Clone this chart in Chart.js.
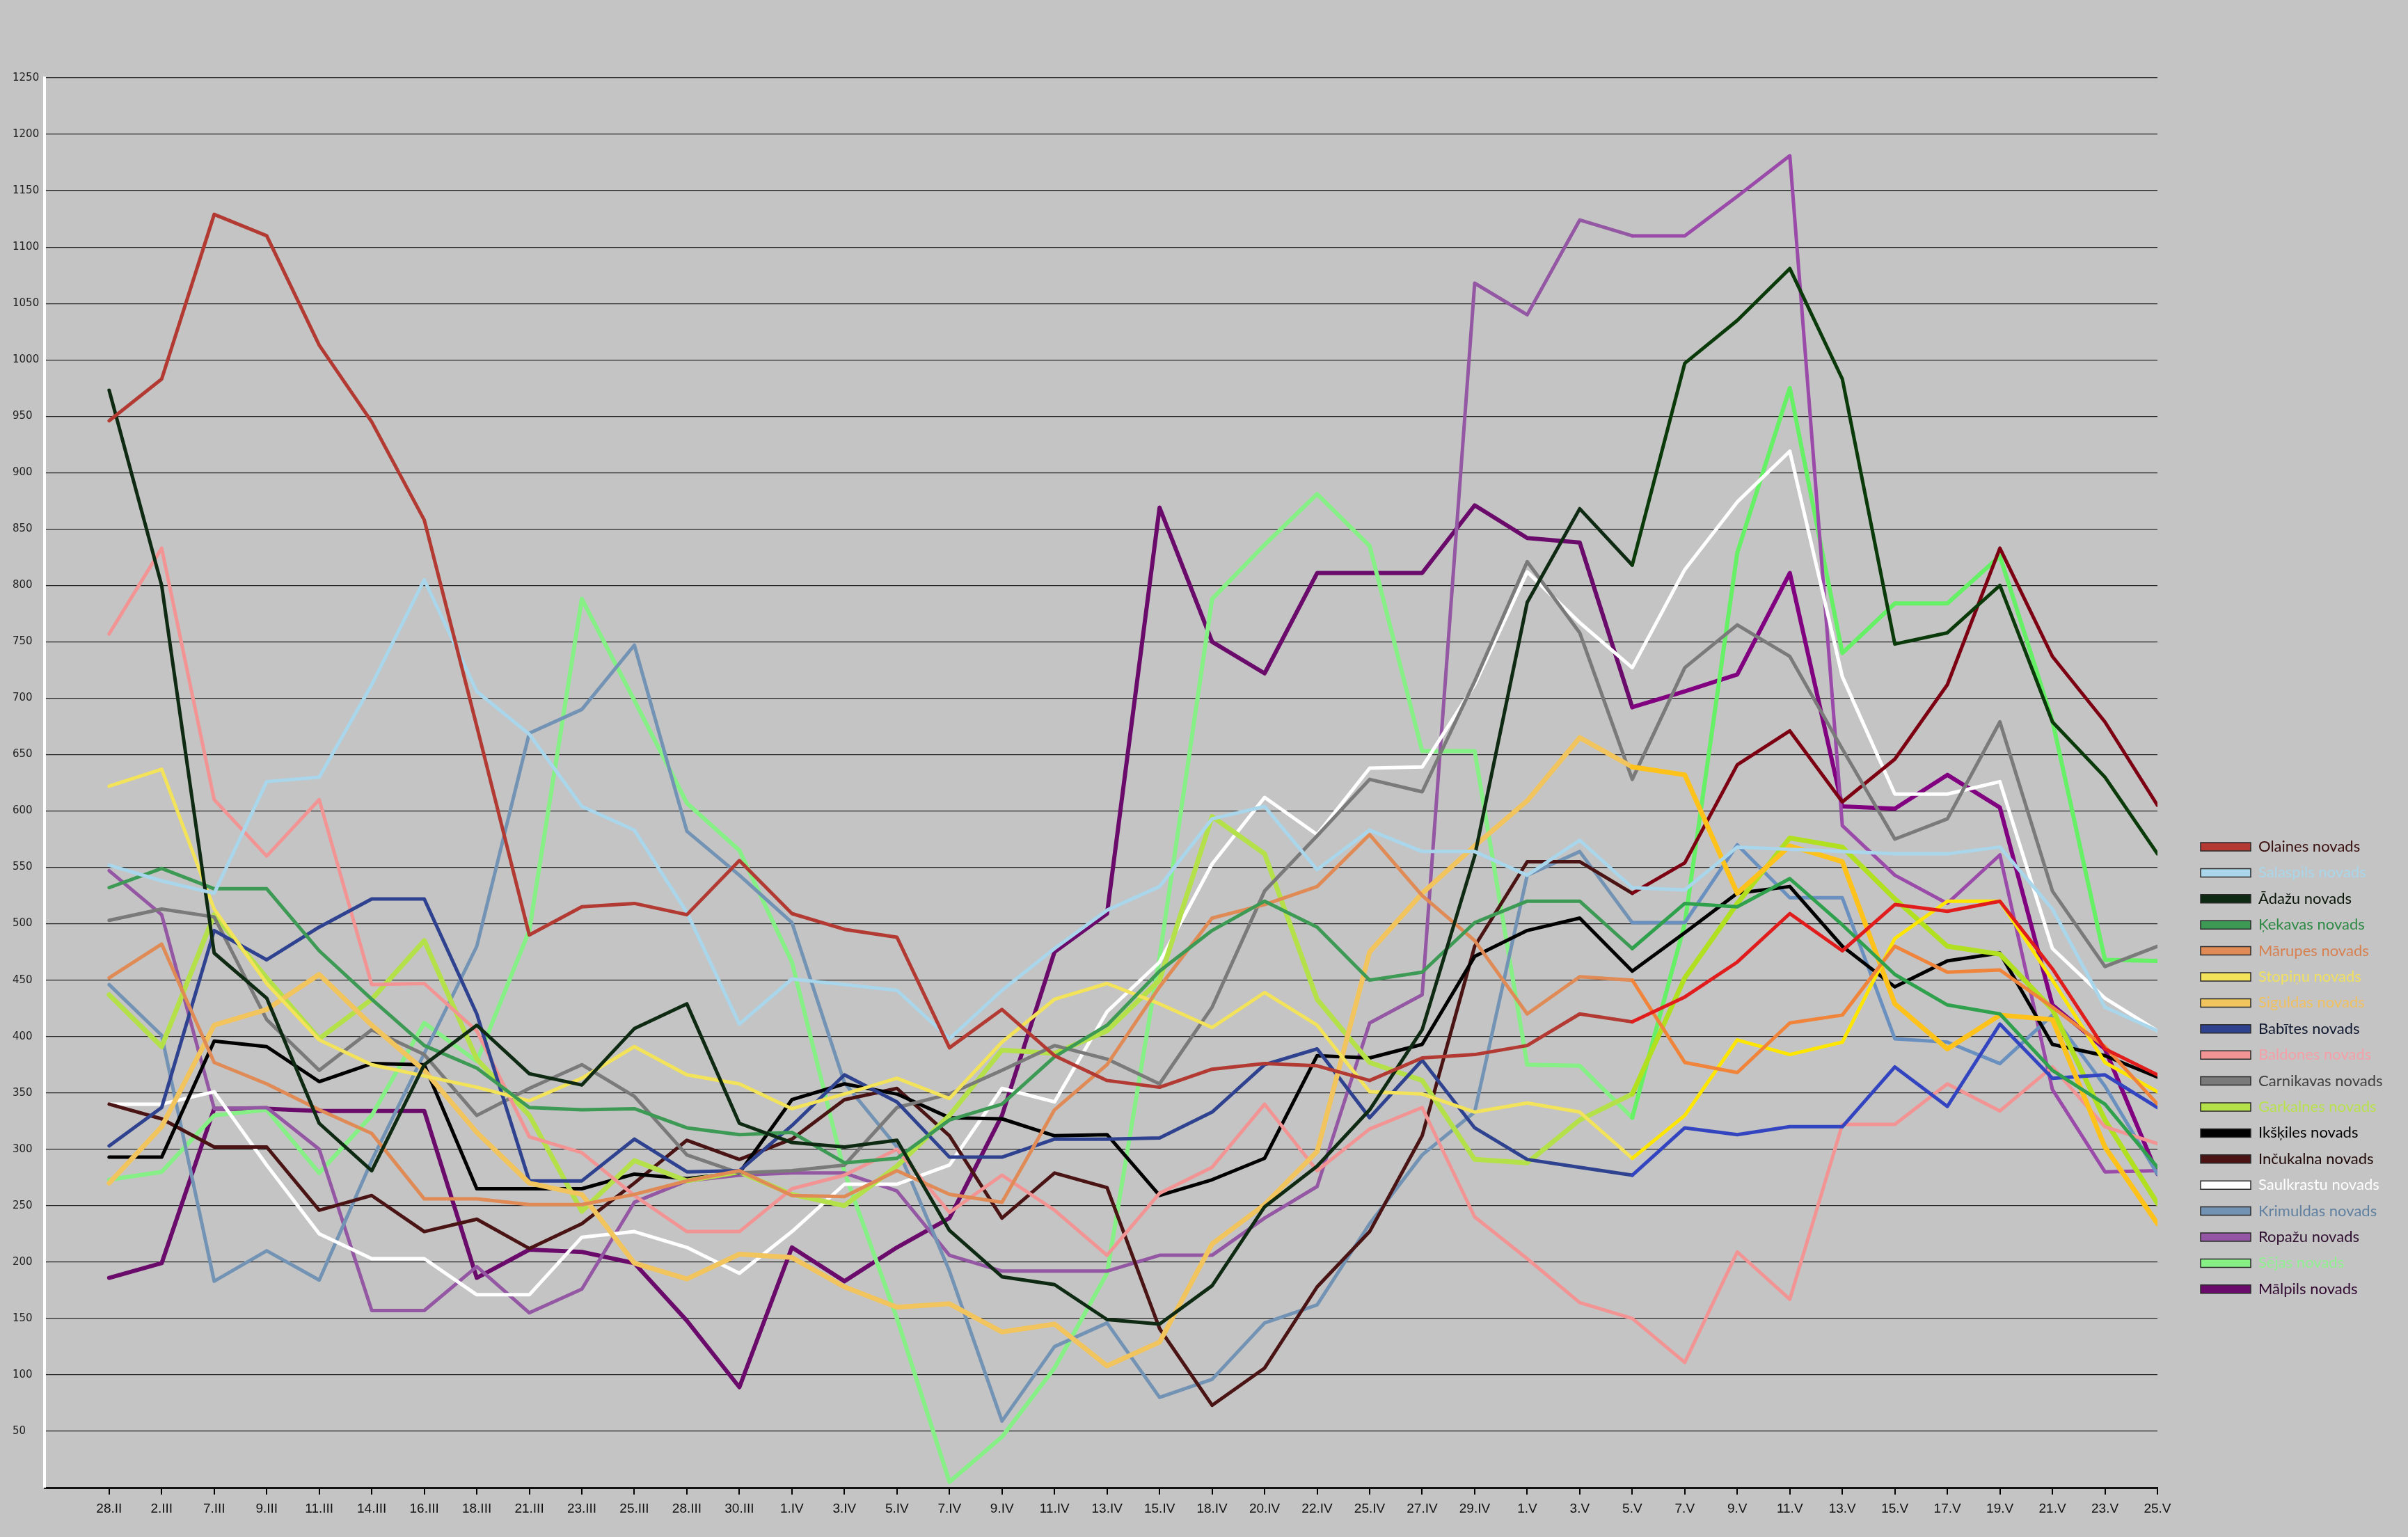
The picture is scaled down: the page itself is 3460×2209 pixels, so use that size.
<!DOCTYPE html>
<html>
<head>
<meta charset="utf-8">
<title>Pierīgas novadi</title>
<script src="https://cdn.jsdelivr.net/npm/chart.js"></script>
<style>
    html, body { margin: 0; padding: 0; background: #c4c4c4; }
    canvas { display: block; }
</style>
</head>
<body>
<canvas id="chart" width="3460" height="2209"></canvas>
<script>
// dates on the x axis
const dates = ['28.II', '2.III', '7.III', '9.III', '11.III', '14.III', '16.III', '18.III', '21.III', '23.III',
    '25.III', '28.III', '30.III', '1.IV', '3.IV', '5.IV', '7.IV', '9.IV', '11.IV', '13.IV',
    '15.IV', '18.IV', '20.IV', '22.IV', '25.IV', '27.IV', '29.IV', '1.V', '3.V', '5.V',
    '7.V', '9.V', '11.V', '13.V', '15.V', '17.V', '19.V', '21.V', '23.V', '25.V'];

const names = ['Olaines novads', 'Salaspils novads', 'Ādažu novads', 'Ķekavas novads', 'Mārupes novads',
    'Stopiņu novads', 'Siguldas novads', 'Babītes novads', 'Baldones novads', 'Carnikavas novads',
    'Garkalnes novads', 'Ikšķiles novads', 'Inčukalna novads', 'Saulkrastu novads', 'Krimuldas novads',
    'Ropažu novads', 'Sējas novads', 'Mālpils novads'];

// values per municipality, one per date
const olaines = [946, 983, 1129, 1110, 1013, 945, 858, 675, 490, 515, 518, 508, 556, 509, 495, 488, 390, 424, 383, 361,
    355, 371, 376, 374, 361, 381, 384, 392, 420, 413, 435, 466, 509, 476, 517, 511, 520, 460, 389, 366];
const salaspils = [552, 538, 527, 626, 630, 712, 805, 706, 668, 604, 583, 510, 411, 451, 446, 441, 398, 441, 478, 512,
    533, 593, 604, 548, 583, 564, 564, 543, 574, 532, 530, 568, 566, 564, 562, 562, 568, 513, 426, 405];
const adazu = [973, 800, 474, 434, 323, 281, 375, 410, 367, 357, 407, 429, 323, 306, 302, 308, 228, 187, 180, 149,
    145, 179, 249, 285, 335, 406, 560, 785, 868, 818, 997, 1035, 1081, 983, 748, 758, 800, 679, 630, 562];
const kekavas = [532, 549, 531, 531, 476, 433, 392, 372, 337, 335, 336, 319, 313, 315, 288, 292, 326, 340, 382, 410,
    458, 494, 520, 497, 450, 457, 501, 520, 520, 478, 518, 515, 540, 499, 455, 428, 420, 370, 340, 284];
const marupes = [452, 482, 377, 358, 335, 314, 256, 256, 251, 251, 260, 272, 281, 259, 258, 281, 260, 253, 335, 375,
    444, 505, 517, 533, 579, 525, 485, 420, 453, 450, 377, 368, 412, 419, 480, 457, 459, 426, 391, 340];
const stopinu = [622, 637, 513, 447, 397, 375, 365, 355, 343, 363, 391, 366, 358, 336, 349, 363, 345, 395, 433, 447,
    429, 408, 439, 410, 351, 349, 333, 341, 333, 292, 330, 397, 384, 395, 487, 520, 520, 450, 377, 351];
const siguldas = [270, 320, 410, 424, 455, 410, 370, 315, 270, 260, 199, 185, 207, 204, 178, 160, 163, 138, 145, 108,
    129, 216, 251, 298, 475, 527, 569, 609, 665, 639, 632, 527, 569, 555, 429, 389, 419, 415, 302, 234];
const babites = [303, 337, 494, 468, 497, 522, 522, 420, 272, 272, 309, 280, 281, 321, 366, 342, 293, 293, 309, 309,
    310, 333, 375, 389, 328, 379, 319, 291, 284, 277, 319, 313, 320, 320, 373, 338, 411, 363, 366, 337];
const baldones = [757, 833, 610, 560, 610, 446, 447, 405, 311, 297, 259, 227, 227, 265, 277, 300, 244, 277, 246, 206,
    261, 284, 340, 281, 318, 337, 240, 203, 164, 150, 111, 209, 167, 322, 322, 358, 334, 373, 320, 305];
const carnikavas = [503, 513, 506, 415, 370, 406, 384, 330, 354, 375, 347, 295, 279, 281, 286, 337, 349, 370, 392, 380,
    358, 426, 529, 578, 628, 617, 715, 821, 758, 628, 727, 765, 737, 655, 575, 593, 679, 529, 462, 480];
const garkalnes = [437, 391, 508, 452, 398, 433, 485, 380, 330, 245, 290, 272, 280, 260, 250, 285, 330, 388, 385, 405,
    450, 595, 562, 433, 377, 361, 291, 288, 326, 349, 452, 518, 576, 568, 522, 480, 473, 424, 326, 252];
const ikskiles = [293, 293, 396, 391, 360, 376, 375, 265, 265, 265, 278, 274, 279, 344, 358, 349, 328, 327, 312, 313,
    259, 273, 292, 383, 381, 393, 471, 494, 505, 458, 492, 527, 533, 480, 444, 467, 474, 393, 383, 364];
const incukalna = [340, 327, 302, 302, 246, 259, 227, 238, 212, 234, 270, 308, 291, 309, 344, 354, 312, 239, 279, 266,
    141, 73, 106, 178, 227, 312, 480, 555, 555, 527, 554, 641, 671, 608, 646, 712, 833, 737, 679, 605];
const saulkrastu = [340, 340, 351, 286, 225, 203, 203, 171, 171, 222, 227, 213, 190, 227, 269, 269, 286, 354, 342, 422,
    466, 553, 612, 579, 638, 639, 712, 812, 767, 727, 814, 874, 919, 719, 615, 615, 626, 478, 434, 405];
const krimuldas = [446, 401, 183, 210, 184, 290, 385, 480, 669, 690, 747, 582, 543, 501, 359, 302, 192, 59, 125, 146,
    80, 96, 146, 162, 234, 295, 333, 543, 564, 501, 501, 570, 523, 523, 398, 395, 376, 419, 356, 278];
const ropazu = [547, 508, 336, 337, 300, 157, 157, 196, 155, 176, 253, 272, 277, 279, 279, 263, 206, 192, 192, 192,
    206, 206, 239, 267, 412, 437, 1068, 1040, 1124, 1110, 1110, 1145, 1181, 587, 543, 518, 561, 353, 280, 281];
const sejas = [273, 280, 330, 335, 279, 330, 412, 378, 494, 788, 698, 607, 565, 466, 280, 150, 5, 45, 106, 190,
    470, 788, 836, 881, 835, 653, 653, 375, 374, 328, 500, 829, 975, 740, 784, 784, 826, 680, 468, 467];
const malpils = [186, 199, 336, 336, 334, 334, 334, 186, 211, 209, 199, 148, 89, 213, 183, 213, 239, 330, 475, 509,
    869, 750, 722, 811, 811, 811, 871, 842, 838, 692, 706, 721, 811, 604, 602, 632, 603, 428, 389, 278];

const series = [olaines, salaspils, adazu, kekavas, marupes, stopinu, siguldas, babites, baldones, carnikavas,
    garkalnes, ikskiles, incukalna, saulkrastu, krimuldas, ropazu, sejas, malpils];

// y axis range and step
const yMin = 0;
const yMax = 1250;
const yStep = 50;

// styles, kept apart from the data
const lineColors = ['#b23a32', '#a9d6ea', '#0f2a12', '#3d9a55', '#e08a55', '#f2e35a', '#f2c45e', '#2e4290', '#f39494',
    '#7a7a7a', '#b4e04a', '#000000', '#4a1414', '#ffffff', '#7393b5', '#9457a3', '#86f086', '#6a0a6a'];
// the last weeks were drawn with brighter pens in the original
const lateColors = ['#e01c1c', null, '#0a3a0a', '#2fa04c', '#f0843a', '#ffe600', '#ffc21a', '#3344c0', null,
    null, '#b0e020', null, '#7c0012', null, '#6a90c0', '#9a4aa8', '#66f066', '#800080'];
const lateFrom = 29;
const textColors = ['#3a1010', '#a9d6ea', '#0a160a', '#2e8a45', '#d88050', '#f0e060', '#f0c060', '#101830', '#f4a0a8',
    '#404040', '#b8e050', '#000000', '#200808', '#ffffff', '#6080a0', '#301030', '#90f090', '#300830'];
const lineWidths = [5, 5, 5, 5, 5, 5, 7, 5, 5, 5, 7, 5, 5, 5, 5, 5, 6, 6];

/**
 * Moves the legend to the free band right of the plot, where the original has it
 */
const legendPlacer = {
    id: 'legendPlacer',
    afterLayout(chart) {
        const lg = chart.legend;
        const pad = lg.options.labels.padding;
        lg.left = 3162 - pad;
        lg.right = lg.left + lg.width;
        lg.top = 1206 - pad;
        lg.bottom = 2205;
    }
};

/**
 * Builds the line datasets from the arrays above
 */
function buildDatasets() {
    return series.map(function (values, i) {
        return {
            label: names[i],
            data: values.map(function (v, j) { return { x: j, y: v }; }),
            borderColor: lineColors[i],
            backgroundColor: lineColors[i],
            borderWidth: lineWidths[i],
            pointRadius: 0,
            tension: 0,
            borderJoinStyle: 'round',
            borderCapStyle: 'round',
            segment: {
                borderColor: function (ctx) {
                    return (lateColors[i] && ctx.p0DataIndex >= lateFrom) ? lateColors[i] : undefined;
                }
            }
        };
    });
}

new Chart("chart", {
    type: "line",
    data: { datasets: buildDatasets() },
    plugins: [legendPlacer],
    options: {
        responsive: false,
        animation: false,
        devicePixelRatio: 1,
        layout: { padding: { left: 18, top: 112, right: 360, bottom: 0 } },
        plugins: {
            tooltip: { enabled: false },
            legend: {
                position: 'chartArea',
                align: 'start',
                labels: {
                    boxWidth: 72,
                    boxHeight: 12,
                    padding: 15.4,
                    font: { family: "Lato, 'Liberation Sans', sans-serif", size: 22 },
                    generateLabels: function (chart) {
                        return chart.data.datasets.map(function (ds, i) {
                            return {
                                text: ds.label,
                                fillStyle: ds.borderColor,
                                strokeStyle: '#2a2a2a',
                                lineWidth: 1.5,
                                fontColor: textColors[i],
                                datasetIndex: i,
                                hidden: false
                            };
                        });
                    }
                }
            }
        },
        scales: {
            x: {
                type: 'linear',
                min: -1.23,
                max: dates.length - 1,
                afterBuildTicks: function (axis) {
                    axis.ticks = dates.map(function (d, i) { return { value: i }; });
                },
                afterFit: function (scale) { scale.height = 71; },
                ticks: {
                    autoSkip: false,
                    maxRotation: 0,
                    padding: 9,
                    color: '#111',
                    font: { family: "'Liberation Sans Narrow', 'Liberation Sans', sans-serif", size: 19 },
                    callback: function (v) { return dates[v]; }
                },
                grid: { drawOnChartArea: false, tickLength: 10, color: '#000', lineWidth: 2 },
                border: { color: '#111', width: 3 }
            },
            y: {
                min: yMin,
                max: yMax,
                afterFit: function (scale) { scale.width = 46; },
                ticks: {
                    stepSize: yStep,
                    crossAlign: 'far',
                    color: '#222',
                    font: { family: "'DejaVu Sans', sans-serif", size: 15 },
                    callback: function (v) { return v === 0 ? '' : v; }
                },
                grid: { color: '#262626', lineWidth: 1.2, drawTicks: false },
                border: { color: '#ffffff', width: 4 }
            }
        }
    }
});
</script>
</body>
</html>
